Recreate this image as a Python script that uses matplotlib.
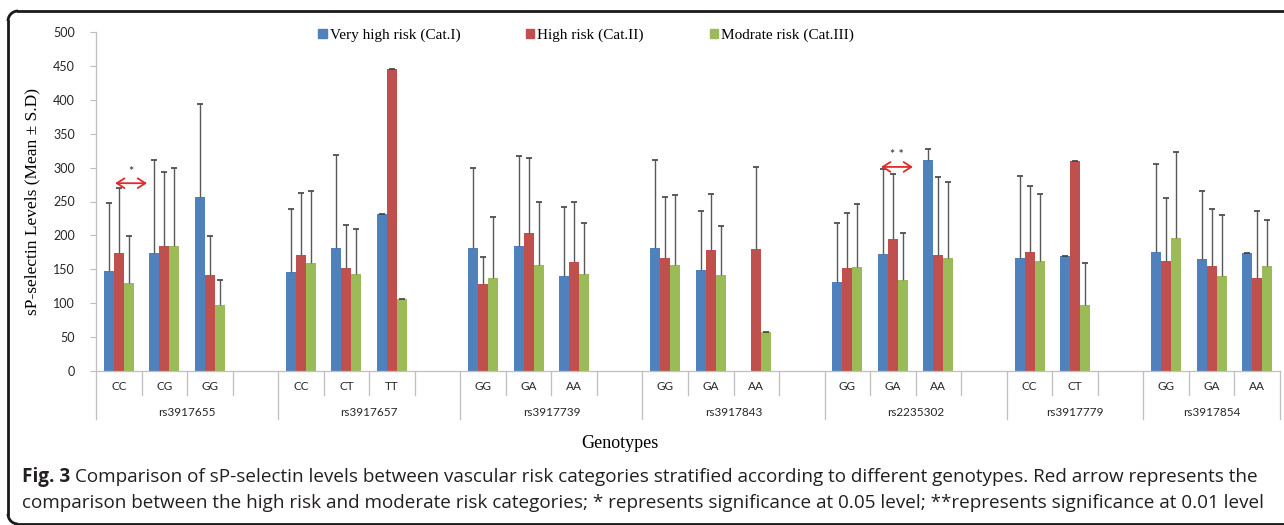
import numpy as np
import matplotlib
matplotlib.use("Agg")
import matplotlib.pyplot as plt
from matplotlib.patches import Patch, Arc
from matplotlib.lines import Line2D
from matplotlib.transforms import IdentityTransform, blended_transform_factory

nan = np.nan

# ---------------- data ----------------
genotypes = ['CC', 'CG', 'GG', '', 'CC', 'CT', 'TT', '', 'GG', 'GA', 'AA', '',
             'GG', 'GA', 'AA', '', 'GG', 'GA', 'AA', '', 'CC', 'CT', '',
             'GG', 'GA', 'AA']
groups = ['rs3917655', 'rs3917657', 'rs3917739', 'rs3917843', 'rs2235302',
          'rs3917779', 'rs3917854']
group_sizes = [4, 4, 4, 4, 4, 3, 3]

series_names = ['Very high risk (Cat.I)', 'High risk (Cat.II)', 'Modrate risk (Cat.III)']

very_high_mean = [148, 174, 257, nan, 146, 181, 231, nan, 182, 184, 140, nan,
                  181, 149.5, nan, nan, 132, 172, 311, nan, 166, 169, nan,
                  175, 165, 173.6]
very_high_sd = [100, 137, 137, nan, 93.5, 138, 0, nan, 118, 133, 102, nan,
                130, 87, nan, nan, 86, 126.6, 16.6, nan, 121, 0, nan,
                131, 100, 0]

high_mean = [174, 184, 142, nan, 171, 152, 445, nan, 129, 204, 161, nan,
             166, 178, 180, nan, 152, 195, 171, nan, 175, 310, nan,
             162, 155, 137]
high_sd = [96, 109, 57, nan, 92, 63, 0, nan, 39, 110, 89, nan,
           90, 83, 120.5, nan, 81, 96, 115, nan, 98, 0, nan,
           93, 83.6, 98.6]

moderate_mean = [130, 184, 98, nan, 159, 143, 106, nan, 137, 156, 143, nan,
                 157, 142, 58, nan, 153, 134, 167, nan, 162, 97, nan,
                 196, 140.6, 154.5]
moderate_sd = [69, 116, 36, nan, 107, 66, 0, nan, 90, 94, 75, nan,
               102, 72, 0, nan, 93, 69, 112, nan, 99, 63, nan,
               127, 89, 68.3]

# significance arrows: (x_start, x_end, y, label)
sig_arrows = [(0.42, 1.12, 277, '*'), (17.24, 17.94, 301, '* *')]

colors = ['#4F81BD', '#C0504D', '#9BBB59']

SERIF = 'Liberation Serif'
SANS = 'Lato'
CAP = 'Open Sans'

W, H = 1284, 525
fig = plt.figure(figsize=(W / 100, H / 100), dpi=100)
ax = fig.add_axes([96 / W, 1 - 371 / H, (1280 - 96) / W, (371 - 32) / H])

n = len(genotypes)
x = np.arange(n) + 0.5
bw = 0.22
means = [very_high_mean, high_mean, moderate_mean]
sds = [very_high_sd, high_sd, moderate_sd]
for k in range(3):
    m = np.array(means[k], dtype=float)
    s = np.array(sds[k], dtype=float)
    xs = x + (k - 1) * bw
    ax.bar(xs, m, width=bw, color=colors[k], label=series_names[k], zorder=2)
    ok = ~np.isnan(m) & ~np.isnan(s)
    ax.vlines(xs[ok], m[ok], m[ok] + s[ok], color='#595959', lw=1.0, zorder=3)
    ax.plot(xs[ok], m[ok] + s[ok], ls='none', marker='_', ms=5, mew=1.2,
            color='#404040', zorder=3)

ax.set_xlim(0, n)
ax.set_ylim(0, 500)
ax.set_yticks(np.arange(0, 501, 50))
ax.tick_params(axis='y', length=4, width=0.8, color='#BFBFBF', pad=11,
               labelsize=9, labelcolor='#262626')
for lab in ax.get_yticklabels():
    lab.set_fontfamily(SANS)
ax.set_xticks([])
for sp in ['top', 'right']:
    ax.spines[sp].set_visible(False)
for sp in ['left', 'bottom']:
    ax.spines[sp].set_color('#BFBFBF')
    ax.spines[sp].set_linewidth(0.9)

# hierarchical category axis
tr = blended_transform_factory(ax.transData, ax.transAxes)
axh = 339.0
def ay(py):
    return -(py - 371) / axh

group_edges = np.concatenate([[0], np.cumsum(group_sizes)])
for b in range(n + 1):
    bottom = ay(419) if b in group_edges else ay(395)
    ax.plot([b, b], [0, bottom], color='#BFBFBF', lw=0.9, transform=tr,
            clip_on=False)
for i, g in enumerate(genotypes):
    if g:
        ax.text(i + 0.5, ay(387), g, transform=tr, ha='center', va='center',
                fontsize=8.5, family=SANS, color='#262626')
for gi, g in enumerate(groups):
    c = (group_edges[gi] + group_edges[gi + 1]) / 2
    ax.text(c, ay(412), g, transform=tr, ha='center', va='center',
            fontsize=8.5, family=SANS, color='#262626')

# significance arrows
for x0, x1, yv, lab in sig_arrows:
    ax.annotate('', xy=(x1, yv), xytext=(x0, yv),
                arrowprops=dict(arrowstyle='<->,head_length=0.55,head_width=0.35',
                                color='#E02A2A', lw=1.3, shrinkA=0, shrinkB=0),
                zorder=4)
    ax.text((x0 + x1) / 2, yv + 17, lab, ha='center', va='center',
            fontsize=9, color='#222222', family=SANS)

# axis labels
ax.set_ylabel('sP-selectin Levels (Mean \u00b1 S.D)', family=SERIF,
              fontsize=12.5)
ax.yaxis.set_label_coords(-(96 - 40) / 1184, 0.5)
fig.text(620 / W, 1 - 443 / H, 'Genotypes', family=SERIF, fontsize=13,
         ha='center', va='center')

# legend
handles = [Patch(color=c) for c in colors]
leg = fig.legend(handles, series_names, loc='center', ncol=3,
                 bbox_to_anchor=(586 / W, 1 - 35 / H), frameon=False,
                 prop={'family': SERIF, 'size': 11}, handlelength=0.55,
                 handleheight=0.55, handletextpad=0.2, columnspacing=4.3)

# caption
r = fig.canvas.get_renderer()
cap_col = '#231F20'
cap_fs = 13.6
t1 = fig.text(22 / W, 1 - 477 / H, 'Fig. 3', family=CAP, weight='bold',
              fontsize=cap_fs, va='center', ha='left', color=cap_col)
bb = t1.get_window_extent(renderer=r)
fig.text((bb.x1 + 5) / W, 1 - 477 / H,
         'Comparison of sP-selectin levels between vascular risk categories '
         'stratified according to different genotypes. Red arrow represents the',
         family=CAP, fontsize=cap_fs, va='center', ha='left', color=cap_col)
fig.text(22 / W, 1 - 503 / H,
         'comparison between the high risk and moderate risk categories; '
         '* represents significance at 0.05 level; **represents significance at 0.01 level',
         family=CAP, fontsize=cap_fs, va='center', ha='left', color=cap_col)

# frame (top and left edges with rounded corners, open to the right)
xl, yt, yb, rr = 8, H - 11, 1, 10
fcol, flw = '#1a1a1a', 2.0
idt = IdentityTransform()
fig.add_artist(Line2D([xl + rr, W], [yt, yt], transform=idt, color=fcol, lw=flw))
fig.add_artist(Line2D([xl + rr, W], [yb, yb], transform=idt, color=fcol, lw=flw))
fig.add_artist(Line2D([xl, xl], [yb + rr, yt - rr], transform=idt, color=fcol, lw=flw))
fig.add_artist(Arc((xl + rr, yt - rr), 2 * rr, 2 * rr, theta1=90, theta2=180,
                   transform=idt, color=fcol, lw=flw))
fig.add_artist(Arc((xl + rr, yb + rr), 2 * rr, 2 * rr, theta1=180, theta2=270,
                   transform=idt, color=fcol, lw=flw))

fig.savefig('out.png', dpi=100)
